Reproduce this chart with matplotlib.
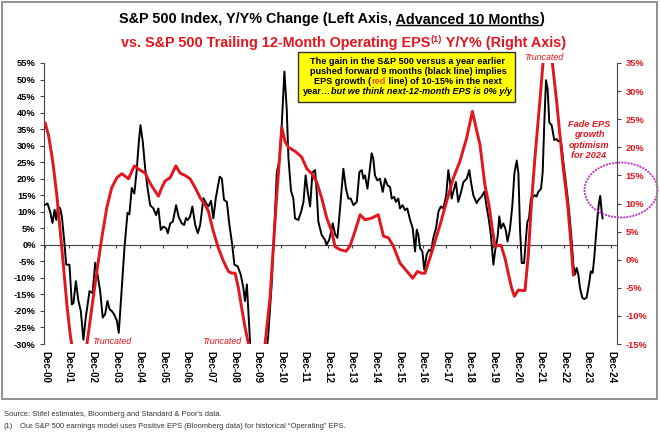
import matplotlib
matplotlib.use("Agg")
import matplotlib.pyplot as plt
from matplotlib.patches import Rectangle, Ellipse
from matplotlib.lines import Line2D

plt.rcParams['font.family'] = ['Liberation Sans', 'DejaVu Sans']

# x = years after Dec-2000
year_labels = ["Dec-%02d" % y for y in range(0, 25)]

# S&P 500 y/y %, advanced 10 months (left axis)
spx_t = [0.00, 0.10, 0.21, 0.31, 0.40, 0.47, 0.54, 0.64, 0.71, 0.81, 0.89,
         1.03, 1.13, 1.20, 1.30, 1.41, 1.51, 1.62, 1.72, 1.88,
         2.01, 2.12, 2.22, 2.33, 2.44, 2.54, 2.64, 2.73, 2.82, 2.92,
         3.04, 3.12, 3.25, 3.36, 3.49, 3.57, 3.67, 3.78, 3.88, 3.97,
         4.04, 4.14, 4.24, 4.34, 4.45, 4.59, 4.70, 4.80, 4.90,
         5.01, 5.13, 5.20, 5.30, 5.41, 5.55, 5.66, 5.79, 5.89, 5.97,
         6.04, 6.14, 6.24, 6.36, 6.47, 6.57, 6.71, 6.81, 6.92,
         7.03, 7.13, 7.23, 7.32, 7.40, 7.49, 7.58, 7.70, 7.81, 7.92,
         8.02, 8.16, 8.29, 8.40, 8.47, 8.55, 8.62, 8.69, 8.85,
         9.10, 9.30, 9.45, 9.60, 9.72, 9.82, 9.93,
         10.03, 10.14, 10.24, 10.31, 10.42, 10.52, 10.59, 10.73, 10.85, 10.95,
         11.04, 11.13, 11.23, 11.33, 11.44, 11.51, 11.58, 11.72, 11.86, 11.93,
         12.04, 12.12, 12.19, 12.29, 12.39, 12.50, 12.64, 12.75, 12.85, 12.95,
         13.07, 13.21, 13.32, 13.42, 13.49, 13.56, 13.66, 13.74, 13.84, 13.91, 13.98,
         14.08, 14.19, 14.31, 14.41, 14.51, 14.62, 14.69, 14.79, 14.87, 14.97,
         15.04, 15.15, 15.25, 15.35, 15.47, 15.58, 15.68, 15.75, 15.82, 15.89, 15.99,
         16.07, 16.17, 16.27, 16.36, 16.45, 16.57, 16.67, 16.77, 16.88,
         17.00, 17.09, 17.16, 17.23, 17.30, 17.41, 17.51, 17.63, 17.73, 17.87, 17.98,
         18.05, 18.15, 18.29, 18.36, 18.50, 18.62, 18.71, 18.81, 18.90,
         19.00, 19.07, 19.18, 19.25, 19.32, 19.42, 19.52, 19.60, 19.70, 19.80, 19.89, 19.99,
         20.06, 20.13, 20.20, 20.30, 20.37, 20.44, 20.51, 20.59, 20.69, 20.76, 20.83, 20.90,
         21.02, 21.09, 21.16, 21.23, 21.30, 21.37, 21.47, 21.58, 21.68, 21.75, 21.86, 21.96,
         22.06, 22.17, 22.25, 22.32, 22.39, 22.46, 22.53, 22.60, 22.67, 22.77, 22.85, 22.95,
         23.05, 23.13, 23.21, 23.28, 23.35, 23.42, 23.47, 23.53, 23.59, 23.63]
spx_yoy = [12.1, 12.5, 10.0, 6.6, 10.6, 7.5, 11.6, 11.0, 8.4, 1.0, -6.0,
           -6.0, -18.0, -17.6, -11.0, -17.0, -20.0, -28.7, -22.0, -14.0,
           -14.6, -5.4, -9.0, -14.0, -22.0, -21.0, -17.0, -19.5, -20.0, -21.0,
           -23.0, -26.6, -13.0, -1.0, 9.7, 9.2, 17.2, 15.5, 22.6, 31.2,
           36.2, 31.0, 23.0, 17.2, 12.0, 11.0, 9.0, 11.0, 4.5,
           5.5, 5.0, 3.5, 6.5, 7.0, 12.0, 8.4, 6.5, 6.0, 8.1,
           7.5, 8.5, 11.6, 6.0, 3.5, 6.0, 14.1, 12.7, 11.6,
           13.3, 8.0, 14.0, 17.6, 20.6, 20.0, 13.6, 13.0, 6.0, 0.5,
           -6.0, -6.5, -9.0, -13.0, -17.0, -12.0, -21.0, -30.0, -40.0,
           -45.0, -38.0, -28.0, -12.0, 6.0, 22.0, 25.5,
           36.6, 52.4, 41.0, 26.5, 16.4, 14.0, 8.0, 7.5, 10.0, 13.0,
           21.0, 16.0, 11.6, 21.9, 22.6, 16.0, 7.0, 3.0, 1.5, 0.0,
           1.5, 4.0, 6.5, 3.2, 2.1, 11.1, 23.0, 17.0, 14.0, 14.0,
           12.0, 13.0, 22.0, 22.6, 20.0, 21.0, 17.0, 21.5, 27.7, 26.0, 21.0,
           19.5, 20.0, 16.0, 20.0, 18.0, 17.5, 14.0, 14.5, 13.0, 14.0,
           11.0, 12.0, 10.5, 11.0, 7.5, 5.0, -2.0, 4.6, 3.0, -1.0, -2.0,
           -7.5, -3.0, -1.5, -2.0, 2.0, 5.1, 10.0, 11.6, 11.0,
           15.0, 22.6, 19.0, 14.0, 16.0, 19.0, 13.0, 16.0, 19.0, 20.0, 22.6,
           19.0, 15.0, 12.6, 13.5, 14.6, 16.1, 11.6, 7.5, 2.5,
           -6.0, -2.0, 2.5, 8.6, 5.0, 6.5, 4.6, 1.0, 4.6, 11.6, 21.6, 25.5,
           21.6, 4.6, -5.5, -5.5, 1.0, 7.0, 8.0, 14.0, 14.6, 15.0, 14.6, 16.0,
           17.0, 22.0, 37.2, 49.8, 47.0, 37.0, 36.2, 31.7, 32.0, 31.3, 31.7, 25.5,
           19.6, 13.0, 7.0, 1.0, -6.0, -9.0, -7.0, -9.0, -13.0, -16.0, -16.4, -16.0,
           -12.0, -8.0, -8.5, -3.5, 3.0, 9.0, 12.4, 14.8, 10.0, 8.0]

# trailing 12-month operating EPS y/y % (right axis)
eps_t = [0.00, 0.14, 0.32, 0.49, 0.64, 0.78, 0.92, 1.06, 1.45, 1.77, 1.98,
         2.19, 2.40, 2.61, 2.82, 3.04, 3.25, 3.53, 3.78, 4.00, 4.24,
         4.45, 4.66, 4.80, 4.94, 5.08, 5.30, 5.54, 5.72, 5.93, 6.14,
         6.36, 6.57, 6.78, 6.92, 7.13, 7.34, 7.56, 7.77, 7.91, 8.05,
         8.19, 8.33, 8.47, 8.62, 9.00, 9.32, 9.53, 9.67, 9.82, 10.03,
         10.17, 10.31, 10.59, 10.87, 11.09, 11.30, 11.51, 11.72, 11.93, 12.15,
         12.29, 12.50, 12.75, 12.92, 13.13, 13.35, 13.56, 13.84, 14.12, 14.34,
         14.55, 14.76, 15.04, 15.32, 15.58, 15.78, 15.96, 16.10, 16.31, 16.53,
         16.74, 17.02, 17.30, 17.58, 17.87, 18.11, 18.29, 18.43, 18.64, 18.81,
         18.95, 19.07, 19.32, 19.49, 19.63, 19.77, 19.89, 20.06, 20.34, 20.48,
         20.62, 20.76, 20.97, 21.30, 21.50, 21.68, 21.82, 21.96, 22.15, 22.29, 22.39]
eps_yoy = [24.3, 22.2, 17.5, 11.6, 5.0, -1.4, -8.0, -13.3, -24.0, -15.0, -8.5,
           -2.1, 3.9, 9.2, 12.8, 14.6, 15.3, 14.4, 16.7, 16.0, 15.4,
           13.6, 12.2, 11.3, 12.8, 14.0, 14.6, 16.7, 15.4, 15.0, 14.4,
           12.8, 11.0, 9.8, 8.6, 5.0, 2.1, -0.3, -2.1, -2.4, -2.4,
           -5.0, -8.6, -12.0, -15.0, -30.0, -15.0, -6.8, 2.1, 11.6, 23.5,
           21.0, 20.0, 19.3, 18.3, 16.2, 15.3, 13.8, 11.0, 7.5, 5.0,
           2.3, 1.8, 1.5, 2.4, 5.0, 8.0, 7.1, 7.4, 8.0, 4.2,
           3.9, 2.4, -0.6, -2.0, -3.3, -2.1, -2.4, -2.4, 0.3, 3.3,
           6.2, 10.4, 14.5, 17.5, 21.7, 26.4, 23.0, 20.5, 13.3, 9.8,
           5.6, 2.4, 2.6, 0.3, -2.4, -5.0, -6.5, -5.4, -5.5, 0.9,
           10.4, 18.1, 28.2, 45.0, 35.0, 28.2, 22.2, 16.3, 9.8, 2.7, -2.7]

RED = '#E3151D'
W, H = 660, 432


def fx(x):
    return x / W


def fy(y):
    return 1 - y / H


fig = plt.figure(figsize=(6.6, 4.32), dpi=100)
ax = fig.add_axes([fx(44), fy(344), fx(617) - fx(44), fy(63) - fy(344)])

ax.plot(spx_t, spx_yoy, color='black', lw=1.4, zorder=3)
ax.set_xlim(-0.05, 24.24)
ax.set_ylim(-30, 55)
ax.axhline(0, color='#444444', lw=0.8, zorder=1)
ax.vlines(range(len(year_labels)), -1.0, 0, color='#444444', lw=0.8, zorder=1)

ax.set_xticks(range(len(year_labels)))
ax.set_xticklabels(year_labels, rotation=270, fontsize=7, fontweight='bold')
ax.tick_params(axis='x', length=0, pad=5)
ax.set_yticks(range(-30, 56, 5))
ax.set_yticklabels(["%d%%" % v for v in range(-30, 56, 5)], fontsize=6.7, fontweight='bold')
ax.tick_params(axis='y', length=3, width=0.8, color='#444444', pad=3)
for s in ['top', 'bottom', 'right']:
    ax.spines[s].set_visible(False)
ax.spines['left'].set_color('#444444')

ax2 = ax.twinx()
ax2.plot(eps_t, eps_yoy, color=RED, lw=2.1)
ax2.set_ylim(-15, 35)
ax2.set_yticks(range(-15, 36, 5))
ax2.set_yticklabels(["%d%%" % v for v in range(-15, 36, 5)], fontsize=6.7,
                    fontweight='bold', color=RED)
ax2.tick_params(axis='y', length=3, width=0.8, color='#444444', pad=3)
for s in ['top', 'bottom', 'left']:
    ax2.spines[s].set_visible(False)
ax2.spines['right'].set_color('#444444')


def chain(anchor, parts, size, z=3):
    # lay text pieces one after another, starting at the left of anchor
    prev, xy, out = anchor, (0, 0), []
    for txt, color, style in parts:
        prev = ax2.annotate(txt, xy=xy, xycoords=prev, ha='left', va='bottom',
                            fontsize=size, fontweight='bold', fontstyle=style,
                            color=color, annotation_clip=False, zorder=z)
        out.append(prev)
        xy = (1, 0)
    return out


def rich_line(x, y, parts, size, z=3):
    full = ''.join(p[0] for p in parts)
    anchor = fig.text(fx(x), fy(y), full, ha='center', va='baseline',
                      fontsize=size, fontweight='bold', alpha=0)
    return chain(anchor, parts, size, z)


# titles
TS = 10.4
t1 = rich_line(332, 23.5, [("S&P 500 Index, Y/Y% Change (Left Axis,", 'black', 'normal'),
                           (" Advanced 10 Months", 'black', 'normal'),
                           (")", 'black', 'normal')], TS)

anchor2 = fig.text(fx(347), fy(46.5), "vs. S&P 500 Trailing 12-Month Operating EPS(1) Y/Y% (Right Axis)",
                   ha='center', va='baseline', fontsize=TS, fontweight='bold', alpha=0)
a = ax2.annotate("vs. S&P 500 Trailing 12-Month Operating EPS", xy=(0, 0), xycoords=anchor2,
                 ha='left', va='bottom', fontsize=TS, fontweight='bold', color=RED,
                 annotation_clip=False)
sup = ax2.annotate("(1)", xy=(1, 1), xycoords=a, ha='left', va='top', fontsize=6.5,
                   fontweight='bold', color=RED, annotation_clip=False)
ax2.annotate(" Y/Y% (Right Axis)", xy=(1, 0), xycoords=(sup, a), ha='left', va='bottom',
             fontsize=TS, fontweight='bold', color=RED, annotation_clip=False)

# yellow call-out box (kept inside ax2 so its text can sit on top)
ax2.add_patch(Rectangle((fx(298), fy(102)), fx(515) - fx(298), fy(52) - fy(102),
                        transform=fig.transFigure, facecolor='#FFFF00',
                        edgecolor='#333333', lw=1.0, zorder=5, clip_on=False))
BS = 6.6
box_lines = [
    [("The gain in the S&P 500 versus a year earlier", 'black', 'normal')],
    [("pushed forward 9 months (black line) implies", 'black', 'normal')],
    [("EPS growth (", 'black', 'normal'), ("red", '#E8501A', 'normal'),
     (" line) of 10-15% in the next", 'black', 'normal')],
    [("year\u2026", 'black', 'normal'),
     ("but we think next-12-month EPS is 0% y/y", 'black', 'italic')],
]
for i, parts in enumerate(box_lines):
    rich_line(408, 64.5 + i * 9.7, parts, BS, z=6)

# annotations
fig.text(fx(92), fy(342), "Truncated", color=RED, fontsize=6.4, style='italic', va='center')
fig.text(fx(202), fy(342), "Truncated", color=RED, fontsize=6.4, style='italic', va='center')
fig.text(fx(524), fy(57), "Truncated", color=RED, fontsize=6.4, style='italic', va='center')
fig.text(fx(589), fy(140), "Fade EPS\ngrowth\noptimism\nfor 2024", color=RED, fontsize=6.6,
         style='italic', fontweight='bold', ha='center', va='center', linespacing=1.15)
fig.add_artist(Ellipse((fx(621), fy(190)), fx(73), 55 / H, transform=fig.transFigure,
                       fill=False, edgecolor='#C040C8', lw=1.6, linestyle=(0, (0.1, 1.3)),
                       capstyle='round'))

# outer frame and notes
fig.add_artist(Rectangle((fx(2), fy(399)), fx(655), 397 / H, transform=fig.transFigure,
                         fill=False, edgecolor='#888888', lw=1.3))
fig.text(fx(4), fy(414), "Source: Stifel estimates, Bloomberg and Standard & Poor's data.",
         fontsize=5.4, color='#333333', va='center')
fig.text(fx(4), fy(427), "(1)", fontsize=5.4, color='#333333', va='center')
fig.text(fx(20), fy(427), "Our S&P 500 earnings model uses Positive EPS (Bloomberg data) "
         "for historical \u201cOperating\u201d EPS.", fontsize=5.4, color='#333333', va='center')

# underline "Advanced 10 Months"
fig.canvas.draw()
r = fig.canvas.get_renderer()
probe = fig.text(0, 0, "Advanced 10 Months", fontsize=TS, fontweight='bold', alpha=0)
w = probe.get_window_extent(r).width
bb = t1[1].get_window_extent(r)
uy = (bb.y0 + 2) / fig.bbox.height
fig.add_artist(Line2D([(bb.x1 - w) / fig.bbox.width, bb.x1 / fig.bbox.width], [uy, uy],
                      transform=fig.transFigure, color='black', lw=1.0))

fig.savefig("out.png", dpi=100)
